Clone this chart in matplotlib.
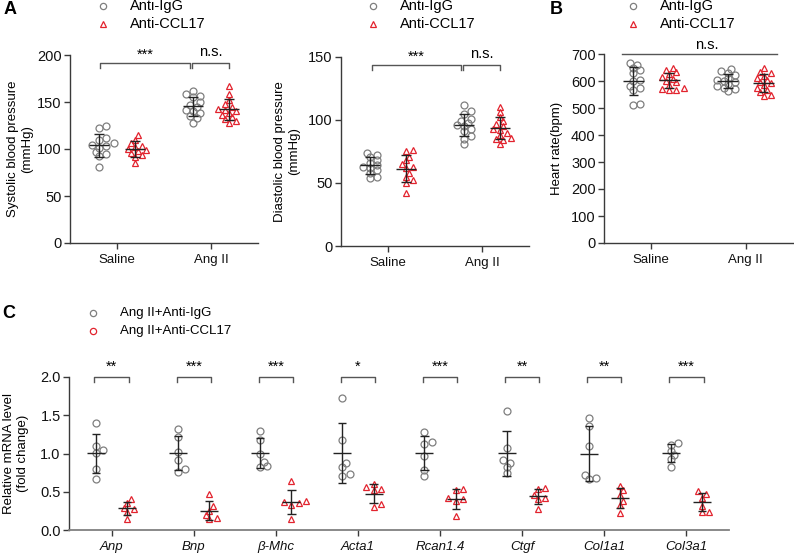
import numpy as np
import matplotlib
matplotlib.use('Agg')
import matplotlib.pyplot as plt
from matplotlib.lines import Line2D

plt.rcParams['font.family'] = ['Liberation Sans', 'DejaVu Sans']
plt.rcParams['font.size'] = 8.5

W, H = 794, 554
GRAY = '#7f7f7f'
RED = '#e2232e'
AXC = '#3a3a3a'

# ---- data ----
groups = ['Saline', 'Ang II']

sbp_igg_saline = [125, 122, 112, 110, 106, 104, 103, 101, 97, 95, 93, 81]
sbp_ccl_saline = [115, 110, 106, 103, 102, 100, 99, 98, 96, 94, 92, 85]
sbp_igg_ang = [162, 158, 156, 155, 150, 147, 145, 142, 140, 138, 135, 133, 128]
sbp_ccl_ang = [167, 158, 152, 148, 145, 143, 142, 140, 138, 136, 134, 132, 130, 128]

dbp_igg_saline = [74, 72, 71, 68, 66, 64, 63, 62, 60, 58, 55, 54]
dbp_ccl_saline = [76, 75, 71, 68, 65, 63, 62, 58, 55, 52, 50, 42]
dbp_igg_ang = [112, 107, 105, 101, 99, 98, 96, 95, 93, 91, 87, 85, 81]
dbp_ccl_ang = [110, 106, 102, 99, 97, 95, 93, 92, 90, 88, 86, 85, 84, 81]

hr_igg_saline = [667, 660, 648, 640, 630, 605, 600, 580, 575, 565, 515, 510]
hr_ccl_saline = [648, 640, 632, 625, 615, 608, 600, 595, 585, 575, 570, 568, 565]
hr_igg_ang = [643, 636, 630, 622, 612, 605, 600, 595, 588, 580, 574, 570, 562]
hr_ccl_ang = [650, 635, 630, 620, 612, 605, 598, 592, 585, 575, 565, 558, 548, 545]

genes = ['Anp', 'Bnp', 'β-Mhc', 'Acta1', 'Rcan1.4', 'Ctgf', 'Col1a1', 'Col3a1']
gene_stars = ['**', '***', '***', '*', '***', '**', '**', '***']
mrna_igg = [
    [1.40, 1.10, 1.05, 1.01, 0.80, 0.67],
    [1.32, 1.21, 1.02, 0.91, 0.80, 0.76],
    [1.29, 1.18, 1.00, 0.89, 0.84, 0.83],
    [1.72, 1.17, 0.88, 0.82, 0.73, 0.71],
    [1.28, 1.15, 1.13, 0.97, 0.78, 0.71],
    [1.56, 1.07, 0.92, 0.88, 0.83, 0.75],
    [1.47, 1.36, 1.10, 0.72, 0.68, 0.67],
    [1.14, 1.11, 1.03, 0.98, 0.93, 0.83],
]
mrna_ccl = [
    [0.40, 0.35, 0.29, 0.27, 0.23, 0.15],
    [0.47, 0.31, 0.25, 0.19, 0.16, 0.14],
    [0.64, 0.38, 0.37, 0.35, 0.33, 0.15],
    [0.60, 0.56, 0.54, 0.52, 0.34, 0.30],
    [0.53, 0.52, 0.42, 0.40, 0.38, 0.18],
    [0.55, 0.54, 0.46, 0.42, 0.40, 0.28],
    [0.57, 0.52, 0.46, 0.38, 0.33, 0.22],
    [0.51, 0.47, 0.42, 0.32, 0.24, 0.23],
]


def rect(x0, y0, x1, y1):
    # pixel box (top-left origin) -> figure fraction rect
    return [x0 / W, 1 - y1 / H, (x1 - x0) / W, (y1 - y0) / H]


def fpt(x, y):
    return x / W, 1 - y / H


def swarm(ax, center, vals, diam=4.8, step=3.6):
    """spread points sideways so markers do not pile up (GraphPad-like)"""
    vals = np.asarray(vals, float)
    pts = ax.transData.transform(np.column_stack([np.full(len(vals), center), vals]))
    cx = pts[0, 0]
    order = np.argsort(pts[:, 1])
    placed = []
    xs = np.zeros(len(vals))
    for i in order:
        y = pts[i, 1]
        for k in range(40):
            off = ((k + 1) // 2) * step * (1 if k % 2 else -1)
            if all((cx + off - px) ** 2 + (y - py) ** 2 >= diam ** 2 for px, py in placed):
                break
        placed.append((cx + off, y))
        xs[i] = cx + off
    back = ax.transData.inverted().transform(np.column_stack([xs, pts[:, 1]]))
    return back[:, 0]


def dots(ax, center, vals, kind):
    xs = swarm(ax, center, vals)
    if kind == 'igg':
        ax.plot(xs, vals, 'o', ms=5, mfc='none', mec=GRAY, mew=0.9, ls='none', clip_on=False, zorder=2)
    else:
        ax.plot(xs, vals, '^', ms=5, mfc='none', mec=RED, mew=0.9, ls='none', clip_on=False, zorder=2)


def mean_sd(ax, x, vals, half=0.11, cap=0.05):
    m = np.mean(vals)
    s = np.std(vals, ddof=1)
    kw = dict(color='#222222', lw=1, zorder=3, solid_capstyle='butt')
    ax.plot([x - half, x + half], [m, m], **kw)
    ax.plot([x, x], [m - s, m + s], **kw)
    ax.plot([x - cap, x + cap], [m + s, m + s], **kw)
    ax.plot([x - cap, x + cap], [m - s, m - s], **kw)


def style(ax):
    for sp in ['top', 'right']:
        ax.spines[sp].set_visible(False)
    for sp in ['left', 'bottom']:
        ax.spines[sp].set_color(AXC)
        ax.spines[sp].set_linewidth(1)
    ax.tick_params(axis='both', color=AXC, width=1, length=4, labelsize=10.5, labelcolor='#111111', pad=2)


def bracket(ax, x0, x1, y, drop, text=None, ty=None):
    ax.plot([x0, x0, x1, x1], [y - drop, y, y, y - drop], color='#555555', lw=1, clip_on=False)
    if text:
        ax.text((x0 + x1) / 2, ty, text, ha='center', va='center', fontsize=10.5, clip_on=False)


def legend(fig, x, y, txt1, txt2, m2='^', fs=10.5):
    fig.add_artist(Line2D([fpt(x, y)[0]], [fpt(x, y)[1]], marker='o', ms=4.5, mfc='none', mec=GRAY,
                          mew=0.9, ls='none', transform=fig.transFigure))
    fig.add_artist(Line2D([fpt(x, y + 18)[0]], [fpt(x, y + 18)[1]], marker=m2, ms=4.5, mfc='none', mec=RED,
                          mew=0.9, ls='none', transform=fig.transFigure))
    fig.text(*fpt(x + 27, y), txt1, ha='left', va='center', fontsize=fs)
    fig.text(*fpt(x + 27, y + 18), txt2, ha='left', va='center', fontsize=fs)


def two_group_panel(ax, ylim, yticks, ylabel, data, lab_x):
    off = 0.19
    ax.set_xlim(-0.5, 1.5)
    ax.set_ylim(*ylim)
    style(ax)
    ax.set_yticks(yticks)
    ax.set_xticks([0, 1])
    ax.set_xticklabels(groups, fontsize=9.5)
    ax.tick_params(axis='x', pad=4)
    for gi, (igg, ccl) in enumerate(data):
        dots(ax, gi - off, igg, 'igg')
        dots(ax, gi + off, ccl, 'ccl')
        mean_sd(ax, gi - off, igg)
        mean_sd(ax, gi + off, ccl)
    ax.set_ylabel(ylabel, fontsize=9.5, linespacing=1.25)
    ax.yaxis.set_label_coords(lab_x, 0.5)


fig = plt.figure(figsize=(W / 100, H / 100), dpi=100)

# ---- A: systolic ----
ax1 = fig.add_axes(rect(70, 55, 258, 243))
two_group_panel(ax1, (0, 200), [0, 50, 100, 150, 200], 'Systolic blood pressure\n(mmHg)',
                [(sbp_igg_saline, sbp_ccl_saline), (sbp_igg_ang, sbp_ccl_ang)], -0.195)
bracket(ax1, -0.18, 0.78, 191.5, 5.5, '***', 200)
bracket(ax1, 0.80, 1.19, 191.5, 5.5, 'n.s.', 203)

# ---- A: diastolic ----
ax2 = fig.add_axes(rect(341, 57, 529, 246))
two_group_panel(ax2, (0, 150), [0, 50, 100, 150], 'Diastolic blood pressure\n(mmHg)',
                [(dbp_igg_saline, dbp_ccl_saline), (dbp_igg_ang, dbp_ccl_ang)], -0.215)
bracket(ax2, -0.17, 0.78, 143.6, 4, '***', 150)
bracket(ax2, 0.80, 1.19, 143.6, 4, 'n.s.', 152)

# ---- B: heart rate ----
ax3 = fig.add_axes(rect(604, 54, 793, 243))
two_group_panel(ax3, (0, 700), list(range(0, 701, 100)), 'Heart rate(bpm)',
                [(hr_igg_saline, hr_ccl_saline), (hr_igg_ang, hr_ccl_ang)], -0.215)
ax3.plot([-0.31, 1.33], [700, 700], color='#555555', lw=1, clip_on=False)
ax3.text(0.585, 732, 'n.s.', ha='center', va='center', fontsize=10.5)

# ---- C: mRNA ----
ax4 = fig.add_axes(rect(69, 377, 729, 530))
ax4.set_xlim(-0.52, len(genes) - 0.48)
ax4.set_ylim(0, 2.0)
style(ax4)
ax4.spines['bottom'].set_color('#808080')
ax4.spines['bottom'].set_linewidth(1.3)
ax4.set_yticks([0, 0.5, 1.0, 1.5, 2.0])
ax4.set_yticklabels(['0.0', '0.5', '1.0', '1.5', '2.0'])
ax4.set_xticks(range(len(genes)))
ax4.set_xticklabels(genes, fontsize=9.5, style='italic')
ax4.tick_params(axis='x', pad=4)
off = 0.19
for gi in range(len(genes)):
    dots(ax4, gi - off, mrna_igg[gi], 'igg')
    dots(ax4, gi + off, mrna_ccl[gi], 'ccl')
    mean_sd(ax4, gi - off, mrna_igg[gi])
    mean_sd(ax4, gi + off, mrna_ccl[gi])
    bracket(ax4, gi - 0.21, gi + 0.21, 2.0, 0.07, gene_stars[gi], 2.14)
ax4.set_ylabel('Relative mRNA level\n(fold change)', fontsize=9.5, linespacing=1.25)
ax4.yaxis.set_label_coords(-0.06, 0.5)

# ---- legends ----
legend(fig, 103, 6, 'Anti-IgG', 'Anti-CCL17')
legend(fig, 373, 6, 'Anti-IgG', 'Anti-CCL17')
legend(fig, 633, 6, 'Anti-IgG', 'Anti-CCL17')
legend(fig, 93, 313, 'Ang II+Anti-IgG', 'Ang II+Anti-CCL17', m2='o', fs=9.5)

# ---- panel letters ----
fig.text(*fpt(4, 10), 'A', fontsize=13, fontweight='bold', ha='left', va='center')
fig.text(*fpt(550, 10), 'B', fontsize=13, fontweight='bold', ha='left', va='center')
fig.text(*fpt(2, 314), 'C', fontsize=13, fontweight='bold', ha='left', va='center')

fig.savefig('out.png', dpi=100)
